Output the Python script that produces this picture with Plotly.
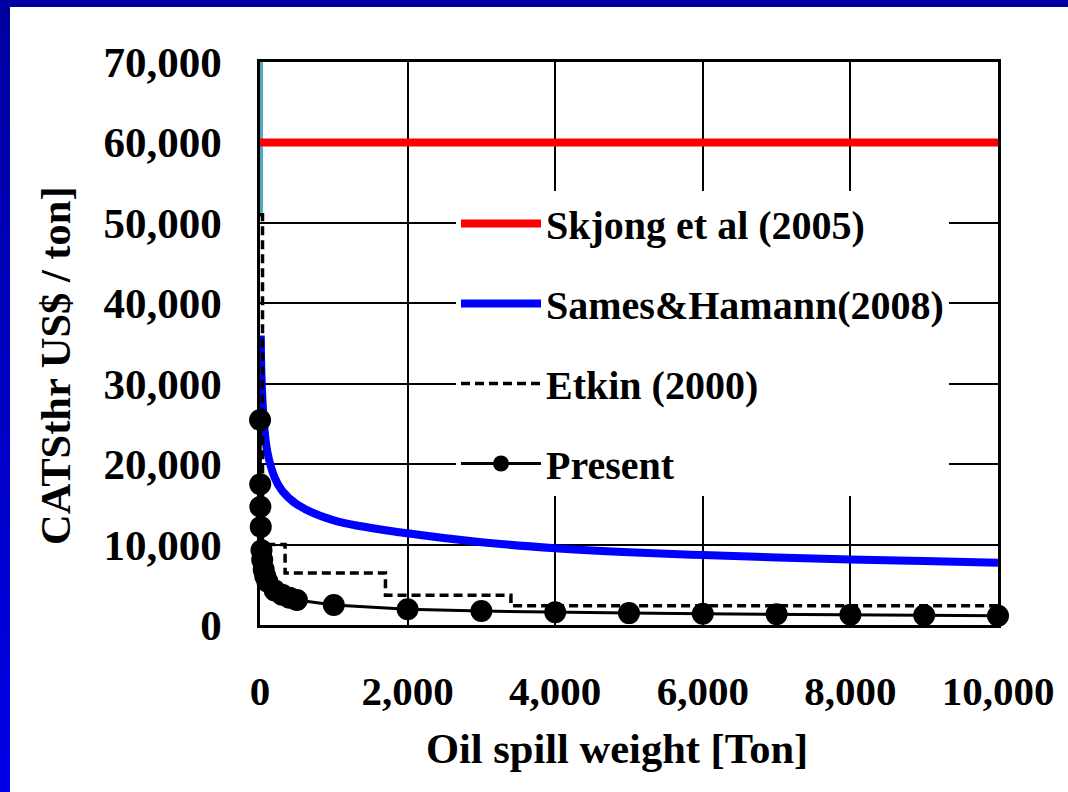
import plotly.graph_objects as go

# ---------------- data ----------------
skjong_x = [0, 10000]
skjong_y = [60000, 60000]

sames_x = [10, 20, 50, 100, 200, 300, 500, 1000, 2000, 3000, 4000, 5000, 6000, 7000, 8000, 9000, 10000]
sames_y = [36000, 31000, 25500, 21500, 18300, 16700, 15000, 13000, 11400, 10300, 9550, 9050, 8700, 8400, 8150, 7950, 7750]

etkin_x = [0, 34, 340, 1700, 3400, 10000]
etkin_y = [51000, 10000, 6470, 3700, 2400, 2400]

present_x = [1, 3, 5, 10, 20, 30, 50, 70, 100, 200, 300, 400, 500, 1000, 2000, 3000, 4000, 5000, 6000, 7000, 8000, 9000, 10000]
present_y = [25500, 17500, 14700, 12200, 9300, 8100, 6900, 6100, 5400, 4300, 3750, 3400, 3100, 2490, 1950, 1740, 1580, 1480, 1400, 1330, 1270, 1210, 1160]

upper_x = [14, 14]
upper_y = [51200, 70000]

x_ticks = [0, 2000, 4000, 6000, 8000, 10000]
y_ticks = [0, 10000, 20000, 30000, 40000, 50000, 60000, 70000]

FONT = "Times New Roman, Liberation Serif, serif"

fig = go.Figure()

fig.add_trace(go.Scatter(x=upper_x, y=upper_y, mode="lines",
                         line=dict(color="#4BACC6", width=4), showlegend=False, hoverinfo="skip"))
fig.add_trace(go.Scatter(x=skjong_x, y=skjong_y, mode="lines", name="Skjong et al (2005)",
                         legendgroup="a", line=dict(color="#FF0000", width=8)))
fig.add_trace(go.Scatter(x=sames_x, y=sames_y, mode="lines", name="Sames&Hamann(2008)",
                         legendgroup="b", line=dict(color="#0000FF", width=8, shape="spline")))
fig.add_trace(go.Scatter(x=etkin_x, y=etkin_y, mode="lines", name="Etkin (2000)",
                         legendgroup="c", line=dict(color="black", width=3.5, dash="9px,5px", shape="hv")))
fig.add_trace(go.Scatter(x=present_x, y=present_y, mode="lines+markers", name="Present",
                         legendgroup="d", cliponaxis=False,
                         line=dict(color="black", width=3),
                         marker=dict(color="black", size=22)))

L, R, T, B = 260, 70, 62, 167
W, H = 1068, 792
pw, ph = W - L - R, H - T - B

def px_x(p):
    return (p - L) / pw

def px_y(p):
    return (H - B - p) / ph

shapes = []
# top bar
shapes.append(dict(type="rect", xref="paper", yref="paper",
                   x0=px_x(0), x1=px_x(W), y0=px_y(7), y1=px_y(0),
                   fillcolor="#0000A0", line=dict(width=0), layer="above"))
# left bar gradient
n = 24
for i in range(n):
    t = i / (n - 1)
    r = int(0xA0 + (0xE6 - 0xA0) * t)
    shapes.append(dict(type="rect", xref="paper", yref="paper",
                       x0=px_x(0), x1=px_x(10),
                       y0=px_y(H * (i + 1) / n + 1), y1=px_y(H * i / n),
                       fillcolor="#0000%02X" % r, line=dict(width=0), layer="above"))

annotations = [
    dict(text="Oil spill weight [Ton]", xref="paper", yref="paper",
         x=px_x(617), y=px_y(748), showarrow=False, xanchor="center", yanchor="middle",
         font=dict(family=FONT, size=42.5, color="black", weight="bold")),
    dict(text="CATSthr US$ / ton]", xref="paper", yref="paper",
         x=px_x(55), y=px_y(366), showarrow=False, xanchor="center", yanchor="middle",
         textangle=-90,
         font=dict(family=FONT, size=42.5, color="black", weight="bold")),
]

fig.update_layout(
    width=W, height=H,
    margin=dict(l=L, r=R, t=T, b=B),
    paper_bgcolor="white", plot_bgcolor="white",
    font=dict(family=FONT, size=40, color="black", weight="bold"),
    showlegend=True,
    legend=dict(x=px_x(456), y=px_y(191), xanchor="left", yanchor="top",
                bgcolor="white", borderwidth=0, tracegroupgap=25,
                itemwidth=80, traceorder="grouped",
                font=dict(family=FONT, size=40, color="black", weight="bold")),
    xaxis=dict(range=[0, 10000], tickvals=x_ticks, tickformat=",d",
               showgrid=True, gridcolor="black", gridwidth=1.5,
               showline=True, linecolor="black", linewidth=2.5, mirror=True,
               ticks="", ticklabelstandoff=28, zeroline=False,
               tickfont=dict(family=FONT, size=41, color="black", weight="bold")),
    yaxis=dict(range=[0, 70000], tickvals=y_ticks, tickformat=",d",
               showgrid=True, gridcolor="black", gridwidth=1.5,
               showline=True, linecolor="black", linewidth=2.5, mirror=True,
               ticks="", ticklabelstandoff=27, zeroline=False,
               tickfont=dict(family=FONT, size=43, color="black", weight="bold")),
    shapes=shapes,
    annotations=annotations,
)

fig.write_html("out.html", config={"displayModeBar": False},
               post_script="document.body.style.margin='0px';document.body.style.padding='0px';")
